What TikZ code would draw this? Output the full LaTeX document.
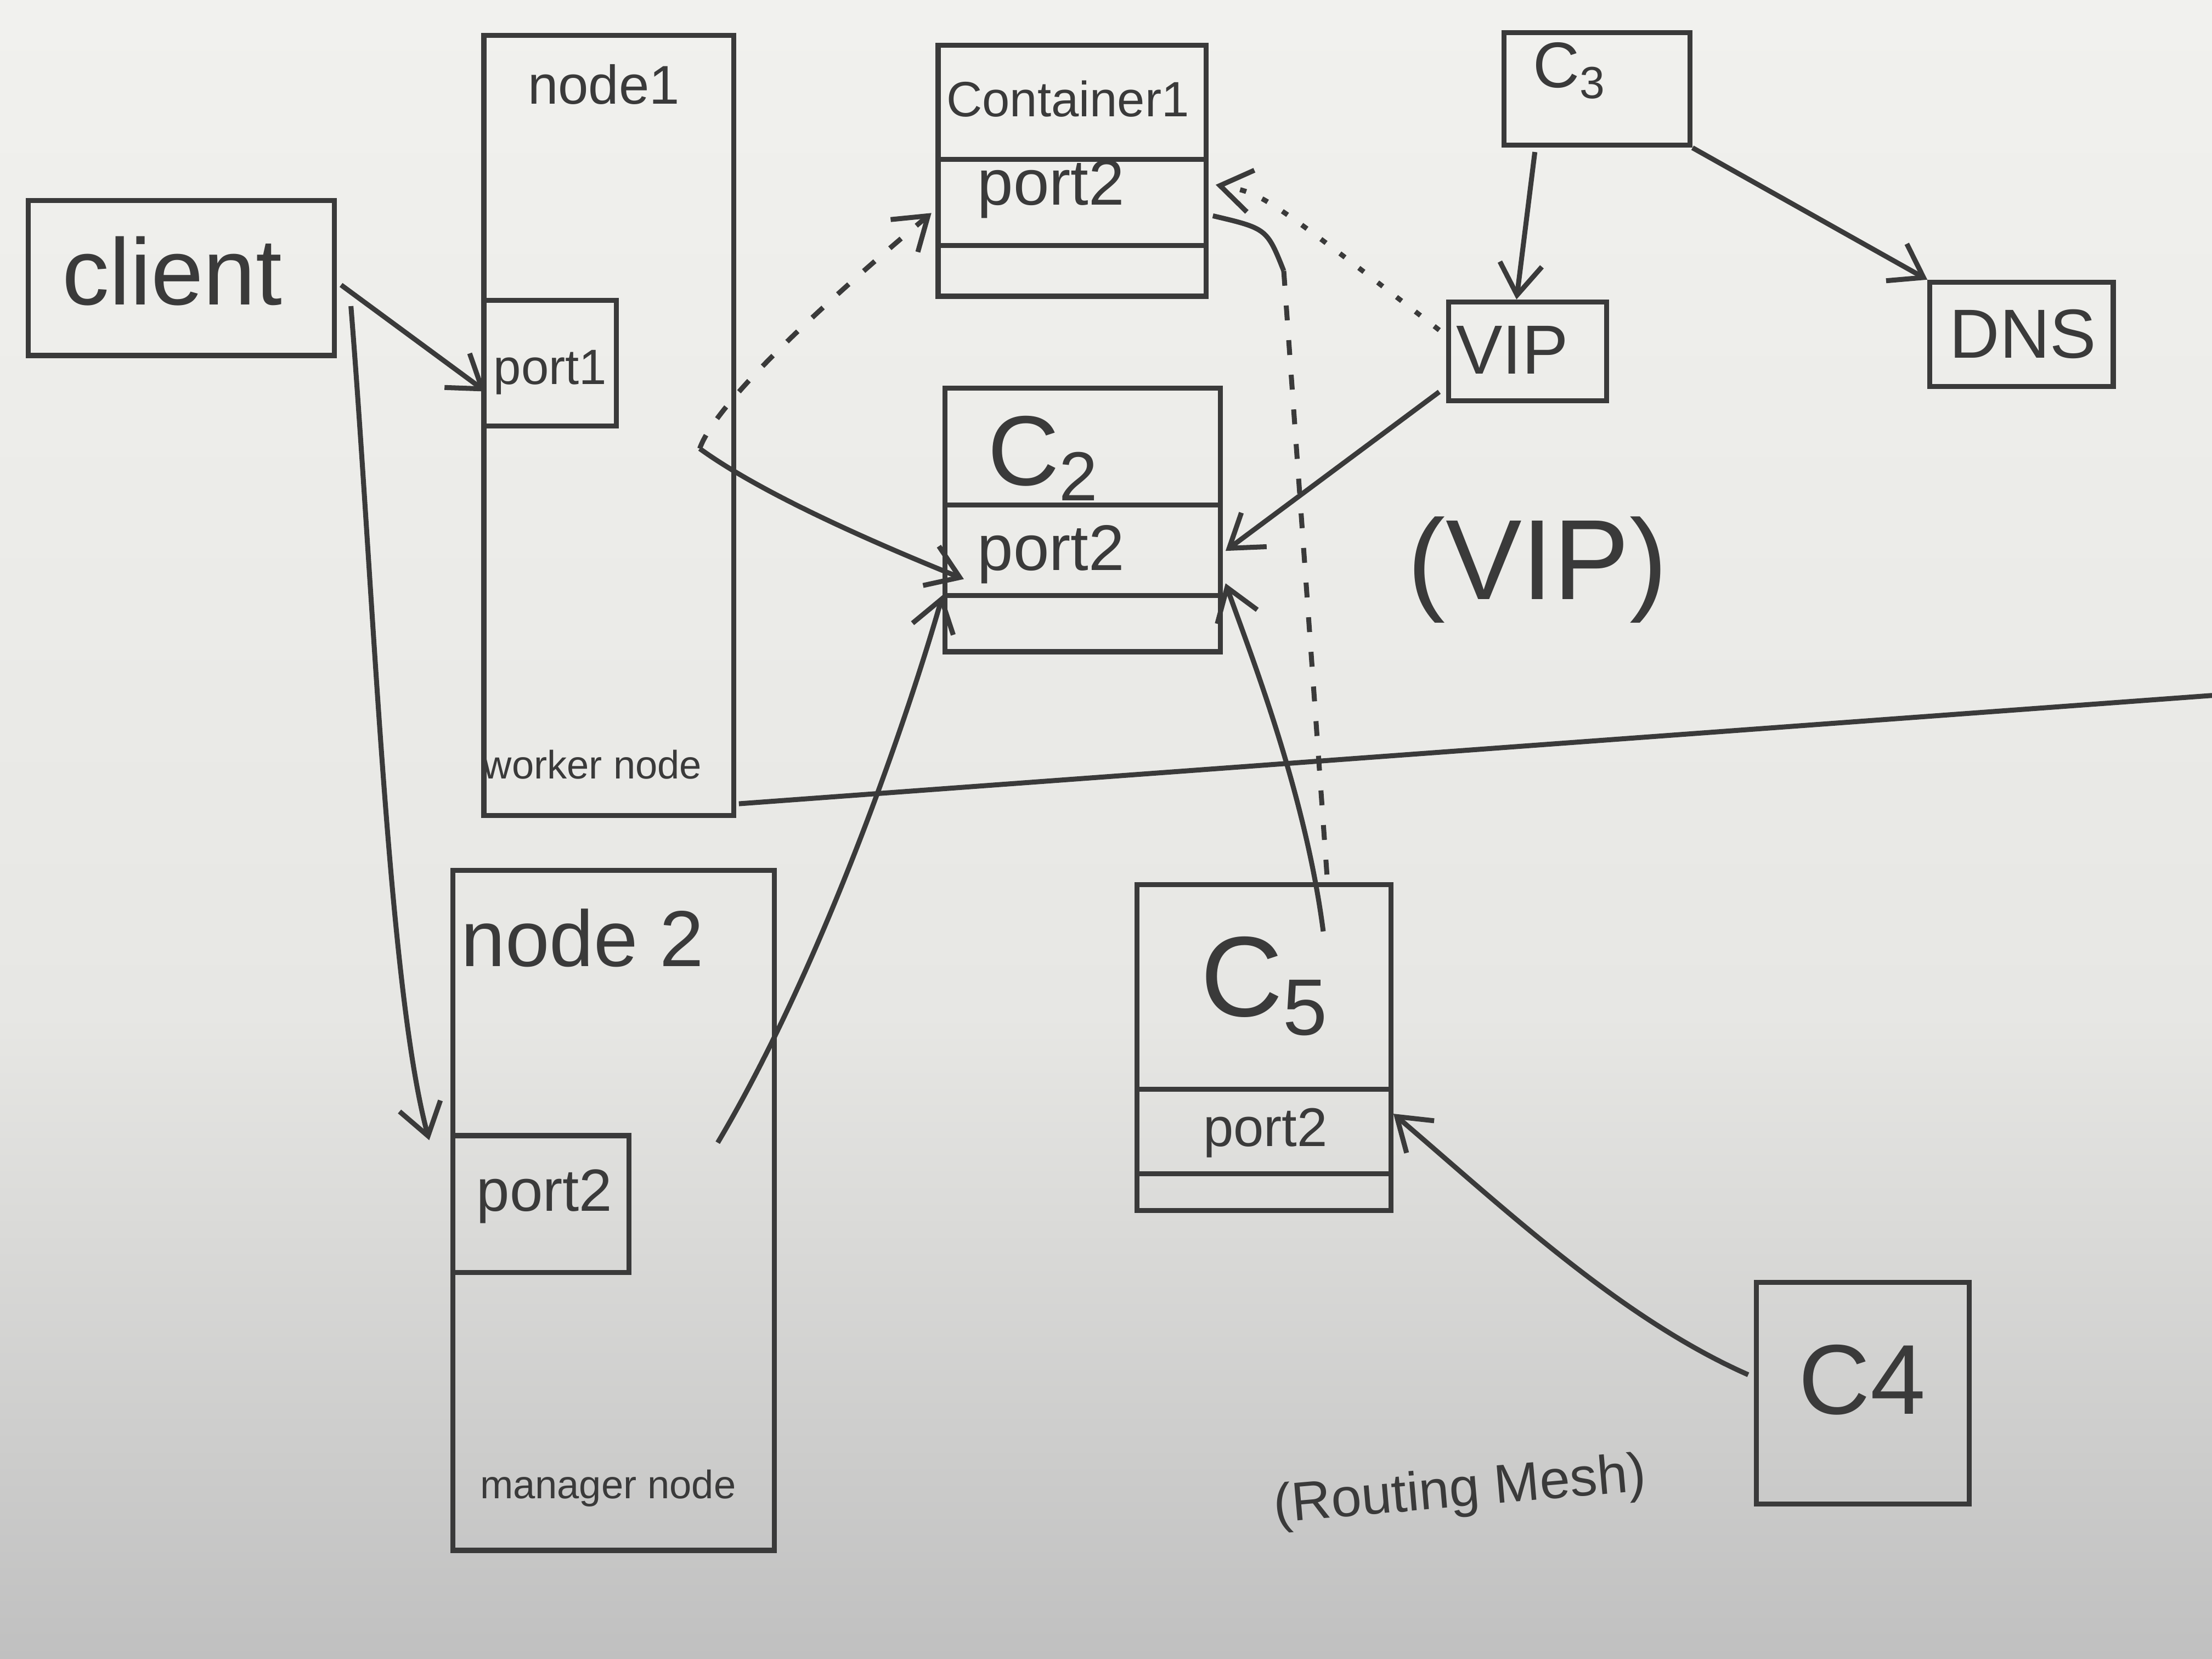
\documentclass[tikz,border=0pt]{standalone}
\usepackage{fontspec}
\setmainfont{Liberation Sans}
\usetikzlibrary{arrows.meta,fit,calc}
\definecolor{ink}{RGB}{58,58,58}
\definecolor{papertop}{RGB}{241,241,238}
\definecolor{papermid}{RGB}{231,231,228}
\definecolor{paperbot}{RGB}{192,192,192}
\newcommand{\fs}[1]{\fontsize{#1}{#1}\selectfont}
\begin{document}
\begin{tikzpicture}[x=0.01cm,y=-0.01cm,
  box/.style={draw=ink,line width=1pt,inner sep=0pt},
  lbl/.style={text=ink,inner sep=0pt},
  ln/.style={draw=ink,line width=1pt},
  arr/.style={draw=ink,line width=1pt,-{Straight Barb[length=2.2mm,width=3mm]}},
  dashline/.style={dash pattern=on 3pt off 4pt},
  dotline/.style={dash pattern=on 1.3pt off 3.5pt}]
\useasboundingbox (0,0) rectangle (1568,1176);
\fill[top color=papertop, bottom color=papermid] (0,0) rectangle (1568,720);
\fill[top color=papermid, bottom color=paperbot] (0,719) rectangle (1568,1176);

% boxes
\node[box,fit={(20,142)(237,252)}] (client) {};
\node[lbl,font=\fs{19}] (clientlbl) at (122,192) {client};
\node[box,fit={(343,25)(520,578)}] (node1) {};
\node[lbl,font=\fs{11}] (node1lbl) at (428,60) {node1};
\node[lbl,font=\fs{8}] (worker) at (420,542) {worker node};
\node[box,fit={(343,213)(437,302)}] (port1) {};
\node[lbl,font=\fs{10}] (port1lbl) at (390,264) {port1};

\node[box,fit={(665,32)(855,210)}] (cont1) {};
\draw[ln] (665,113) -- (855,113);
\draw[ln] (665,174) -- (855,174);
\node[lbl,font=\fs{10}] (cont1lbl) at (757,70) {Container1};
\node[lbl,font=\fs{13}] (cont1port) at (745,134) {port2};

\node[box,fit={(670,275)(865,462)}] (C2) {};
\draw[ln] (670,358) -- (865,358);
\draw[ln] (670,422) -- (865,422);
\node[lbl,font=\fs{20}] (C2lbl) at (740,325) {C\textsubscript{2}};
\node[lbl,font=\fs{13}] (C2port) at (745,393) {port2};

\node[box,fit={(1066,23)(1198,103)}] (C3) {};
\node[lbl,font=\fs{13}] (C3lbl) at (1113,50) {C\textsubscript{3}};
\node[box,fit={(1027,214)(1139,284)}] (VIP) {};
\node[lbl,font=\fs{14}] (VIPlbl) at (1072,248) {VIP};
\node[box,fit={(1368,200)(1498,274)}] (DNS) {};
\node[lbl,font=\fs{14}] (DNSlbl) at (1434,237) {DNS};
\node[lbl,font=\fs{23}] (viplbl) at (1090,404) {(VIP)};

\node[box,fit={(321,617)(549,1099)}] (node2) {};
\node[lbl,font=\fs{16}] (node2lbl) at (413,665) {node 2};
\node[box,fit={(321,805)(446,902)}] (n2port) {};
\node[lbl,font=\fs{12}] (n2portlbl) at (386,848) {port2};
\node[lbl,font=\fs{8}] (manager) at (431,1055) {manager node};

\node[box,fit={(806,627)(986,858)}] (C5) {};
\draw[ln] (806,772) -- (986,772);
\draw[ln] (806,832) -- (986,832);
\node[lbl,font=\fs{23}] (C5lbl) at (897,699) {C\textsubscript{5}};
\node[lbl,font=\fs{11}] (C5port) at (897,803) {port2};

\node[box,fit={(1245,909)(1396,1066)}] (C4) {};
\node[lbl,font=\fs{20}] (C4lbl) at (1320,978) {C4};
\node[lbl,font=\fs{11},rotate=5] (mesh) at (1035,1058) {(Routing Mesh)};

% connectors
\coordinate (n1out) at (496,318);
\coordinate (bend) at (910,192);
\coordinate (rightend) at (1568,493);

\draw[arr] ($(client.east)+(3,5)$) -- ($(port1.west)+(3,20)$);
\draw[arr] ($(client.east)+(10,20)$) .. controls (265,420) and (275,700) .. ($(n2port.north west)+(-15,5)$);
\draw[arr] (n1out) .. controls (540,350) and (620,385) .. ($(C2.west)+(15,42)$);
\draw[arr,dashline] (n1out) .. controls (505,292) and (560,235) .. ($(cont1.west)+(-3,30)$);
\draw[arr,dotline] ($(VIP.west)+(-5,-15)$) .. controls (895,137) .. ($(cont1.east)+(5,10)$);
\draw[arr] ($(VIP.south west)+(-5,-8)$) -- ($(C2.east)+(2,22)$);
\draw[arr] ($(C5.north)+(42,35)$) .. controls (925,560) and (885,460) .. ($(C2.east)+(2,45)$);
\draw[arr] ($(C3.south)+(-44,3)$) -- ($(VIP.north)+(-8,0)$);
\draw[arr] (C3.south east) -- (DNS.north west);
\draw[arr] ($(node2.east)+(-42,-48)$) .. controls (580,690) and (640,520) .. ($(C2.south west)+(0,-42)$);
\draw[arr] ($(C4.west)+(-4,-13)$) .. controls (1150,935) and (1070,860) .. ($(C5.east)+(0,47)$);
\draw[ln] ($(cont1.east)+(3,32)$) .. controls (898,162) .. (bend);
\draw[ln,dashline] (bend) -- ($(C5.north)+(45,0)$);
\draw[ln] ($(node1.south east)+(2,-10)$) -- (rightend);
\end{tikzpicture}
\end{document}
